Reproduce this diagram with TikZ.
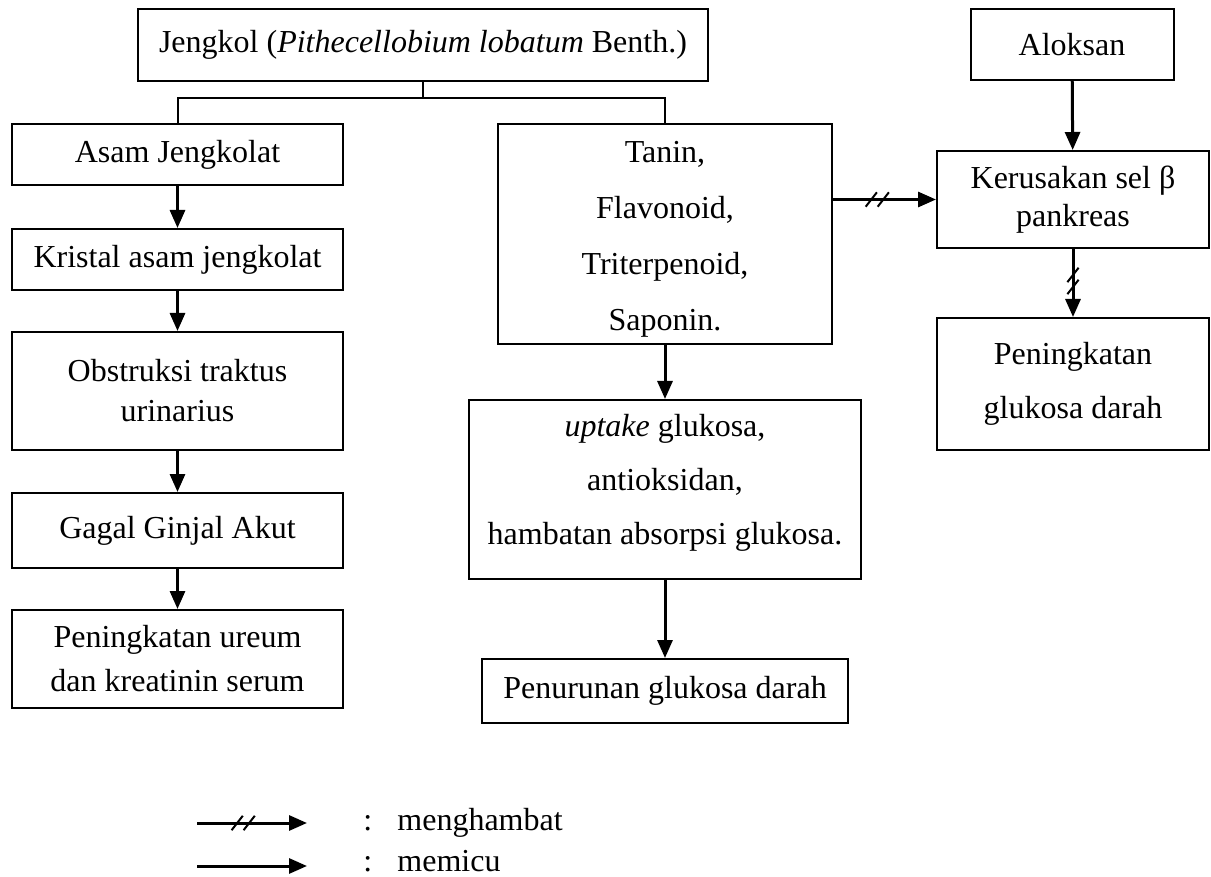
\documentclass[tikz,border=0pt]{standalone}
\usepackage{fontspec}
\setmainfont{Liberation Serif}
\usetikzlibrary{arrows.meta,decorations.markings}

\begin{document}
\begin{tikzpicture}[x=0.5pt,y=-0.5pt,
  font=\fontsize{16}{19}\selectfont,
  box/.style={draw=black,line width=1pt,align=center,inner sep=0pt},
  boxsize/.style 2 args={minimum width=#1*0.5pt,minimum height=#2*0.5pt},
  link/.style={draw=black,line width=1pt},
  cause/.style={draw=black,line width=1.5pt,-{Triangle[length=9pt,width=7.5pt]}},
  inhib/.style={cause,postaction={decorate},
    decoration={markings,mark=at position #1 with {
      \foreach \d in {-3pt,3pt}{
        \begin{scope}[xshift=\d]
          \pgftransformresetnontranslations
          \draw[arrows=-,line width=1pt] (-2.8pt,-3.6pt) -- (2.8pt,3.6pt);
        \end{scope}}}}},
  keterangan/.style={anchor=base west,inner sep=0pt}]
\useasboundingbox (0,0) rectangle (1211,877);
\node[box,boxsize={570}{72}] (jengkol) at (423,45) {Jengkol (\textit{Pithecellobium lobatum} Benth.)};
% left column
\node[box,boxsize={331}{61}] (asam) at (177.5,154.5) {Asam Jengkolat};
\node[box,boxsize={331}{61}] (kristal) at (177.5,259.5) {Kristal asam jengkolat};
\node[box,boxsize={331}{118}] (obstruksi) at (177.5,391) {Obstruksi traktus\\[1pt] urinarius};
\node[box,boxsize={331}{75}] (gagal) at (177.5,530.5) {Gagal Ginjal Akut};
\node[box,boxsize={331}{98}] (ureum) at (177.5,659) {Peningkatan ureum\\[3pt] dan kreatinin serum};
% middle column
\node[box,boxsize={334}{220}] (senyawa) at (665,234) {\rule{0pt}{16pt}Tanin,\\[9pt] Flavonoid,\\[9pt] Triterpenoid,\\[9pt] Saponin.};
\node[box,boxsize={392}{179}] (mekanisme) at (665,489.5) {\textit{uptake} glukosa,\\[8pt] antioksidan,\\[8pt] hambatan absorpsi glukosa.\rule[-10pt]{0pt}{0pt}};
\node[box,boxsize={366}{64}] (turun) at (665,691) {Penurunan glukosa darah};
% right column
\node[box,boxsize={203}{71}] (aloksan) at (1072,44.5) {Aloksan};
\node[box,boxsize={272}{97}] (kerusakan) at (1073,199.5) {Kerusakan sel β\\ pankreas};
\node[box,boxsize={272}{132}] (naik) at (1073,384) {Peningkatan\\[8pt] glukosa darah};
% branches from jengkol
\coordinate (cabang) at ([yshift=-8pt]jengkol.south);
\draw[link] (jengkol.south) -- (cabang);
\draw[link] (asam.north) |- (cabang) -| (senyawa.north);
\foreach \a/\b in {asam/kristal,kristal/obstruksi,obstruksi/gagal,gagal/ureum,
                   senyawa/mekanisme,mekanisme/turun,aloksan/kerusakan}
  \draw[cause] (\a) -- (\b);
\draw[inhib=0.43] (senyawa.east |- kerusakan.west) -- (kerusakan.west);
\draw[inhib=0.47] (kerusakan) -- (naik);
% legend
\coordinate (hA) at (197,823);
\coordinate (hB) at (307,823);
\coordinate (pA) at (197,866);
\coordinate (pB) at (307,866);
\draw[inhib=0.42] (hA) -- (hB);
\draw[cause] (pA) -- (pB);
\node[keterangan] (kolon1) at (363,830) {:};
\node[keterangan] (arti1) at (397,830) {menghambat};
\node[keterangan] (kolon2) at (363,871) {:};
\node[keterangan] (arti2) at (397,871) {memicu};
\end{tikzpicture}
\end{document}
